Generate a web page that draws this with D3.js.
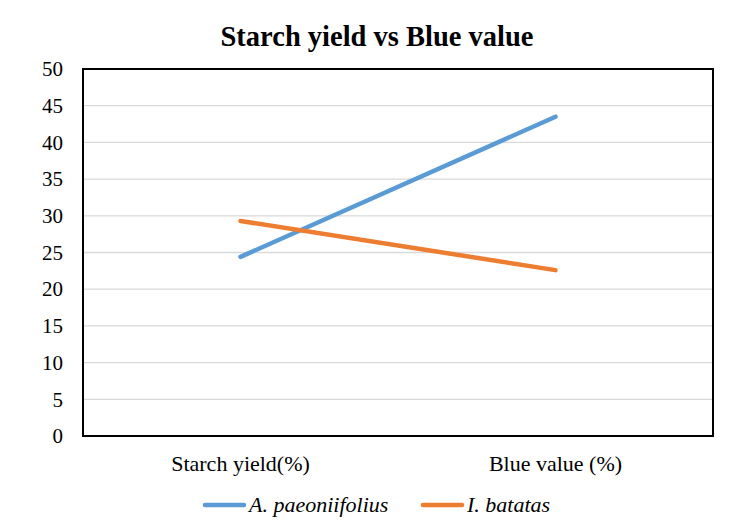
<!DOCTYPE html>
<html>
<head>
<meta charset="utf-8">
<script src="https://cdn.jsdelivr.net/npm/d3@7"></script>
<style>
  body { margin: 0; background: #fff; }
  #chart text { font-family: 'Times New Roman'; }
</style>
</head>
<body>
<svg id="chart" width="754" height="527"></svg>
<script>
const categories = ['Starch yield(%)', 'Blue value (%)']
const seriesNames = ['A. paeoniifolius', 'I. batatas']
const paeoniifolius = [24.4, 43.5]
const batatas = [29.3, 22.6]
const yTicks = [0, 5, 10, 15, 20, 25, 30, 35, 40, 45, 50]
const colors = ['#5b9bd5', '#ed7d31']

const width = 754
const height = 527
const margin = { top: 69, right: 41, bottom: 91, left: 83 }

const svg = d3.select('#chart')

const x = d3.scaleBand()
  .domain(categories)
  .range([margin.left, width - margin.right])

const y = d3.scaleLinear()
  .domain([0, 50])
  .range([height - margin.bottom, margin.top])

// title
svg.append('text')
  .attr('x', 377)
  .attr('y', 46)
  .attr('text-anchor', 'middle')
  .attr('font-size', 28.5)
  .attr('font-weight', 'bold')
  .text('Starch yield vs Blue value')

// gridlines
svg.append('g')
  .selectAll('line')
  .data(yTicks.filter(t => t > 0 && t < 50))
  .join('line')
    .attr('x1', margin.left)
    .attr('x2', width - margin.right)
    .attr('y1', d => y(d))
    .attr('y2', d => y(d))
    .attr('stroke', '#d9d9d9')
    .attr('stroke-width', 1.3)

// y axis labels
const yAxis = g => g
  .attr('transform', `translate(${margin.left},0)`)
  .call(d3.axisLeft(y).tickValues(yTicks).tickSize(0).tickPadding(20))
  .call(g => g.select('.domain').remove())
  .call(g => g.attr('font-family', null).attr('font-size', 21))
  .call(g => g.selectAll('text').attr('fill', '#000'))

svg.append('g').call(yAxis)

// x axis labels
const xAxis = g => g
  .attr('transform', `translate(0,${height - margin.bottom})`)
  .call(d3.axisBottom(x).tickSize(0).tickPadding(19))
  .call(g => g.select('.domain').remove())
  .call(g => g.attr('font-family', null).attr('font-size', 22))
  .call(g => g.selectAll('text').attr('fill', '#000'))

svg.append('g').call(xAxis)

// plot border
svg.append('rect')
  .attr('x', margin.left)
  .attr('y', margin.top)
  .attr('width', width - margin.left - margin.right)
  .attr('height', height - margin.top - margin.bottom)
  .attr('fill', 'none')
  .attr('stroke', '#000')
  .attr('stroke-width', 2)

const line = d3.line()
  .x((d, i) => x(categories[i]) + x.bandwidth() / 2)
  .y(d => y(d))

const series = [paeoniifolius, batatas]
series.forEach((s, i) => {
  svg.append('path')
    .datum(s)
    .attr('fill', 'none')
    .attr('stroke', colors[i])
    .attr('stroke-width', 4.5)
    .attr('stroke-linecap', 'round')
    .attr('d', line)
})

// legend
const legendX = [205, 423]
seriesNames.forEach((name, i) => {
  const g = svg.append('g').attr('transform', `translate(${legendX[i]},505)`)
  g.append('line')
    .attr('x1', 0)
    .attr('x2', 39)
    .attr('stroke', colors[i])
    .attr('stroke-width', 4.5)
    .attr('stroke-linecap', 'round')
  g.append('text')
    .attr('x', 44)
    .attr('y', 7)
    .attr('font-size', 22)
    .attr('font-style', 'italic')
    .text(name)
})
</script>
</body>
</html>
